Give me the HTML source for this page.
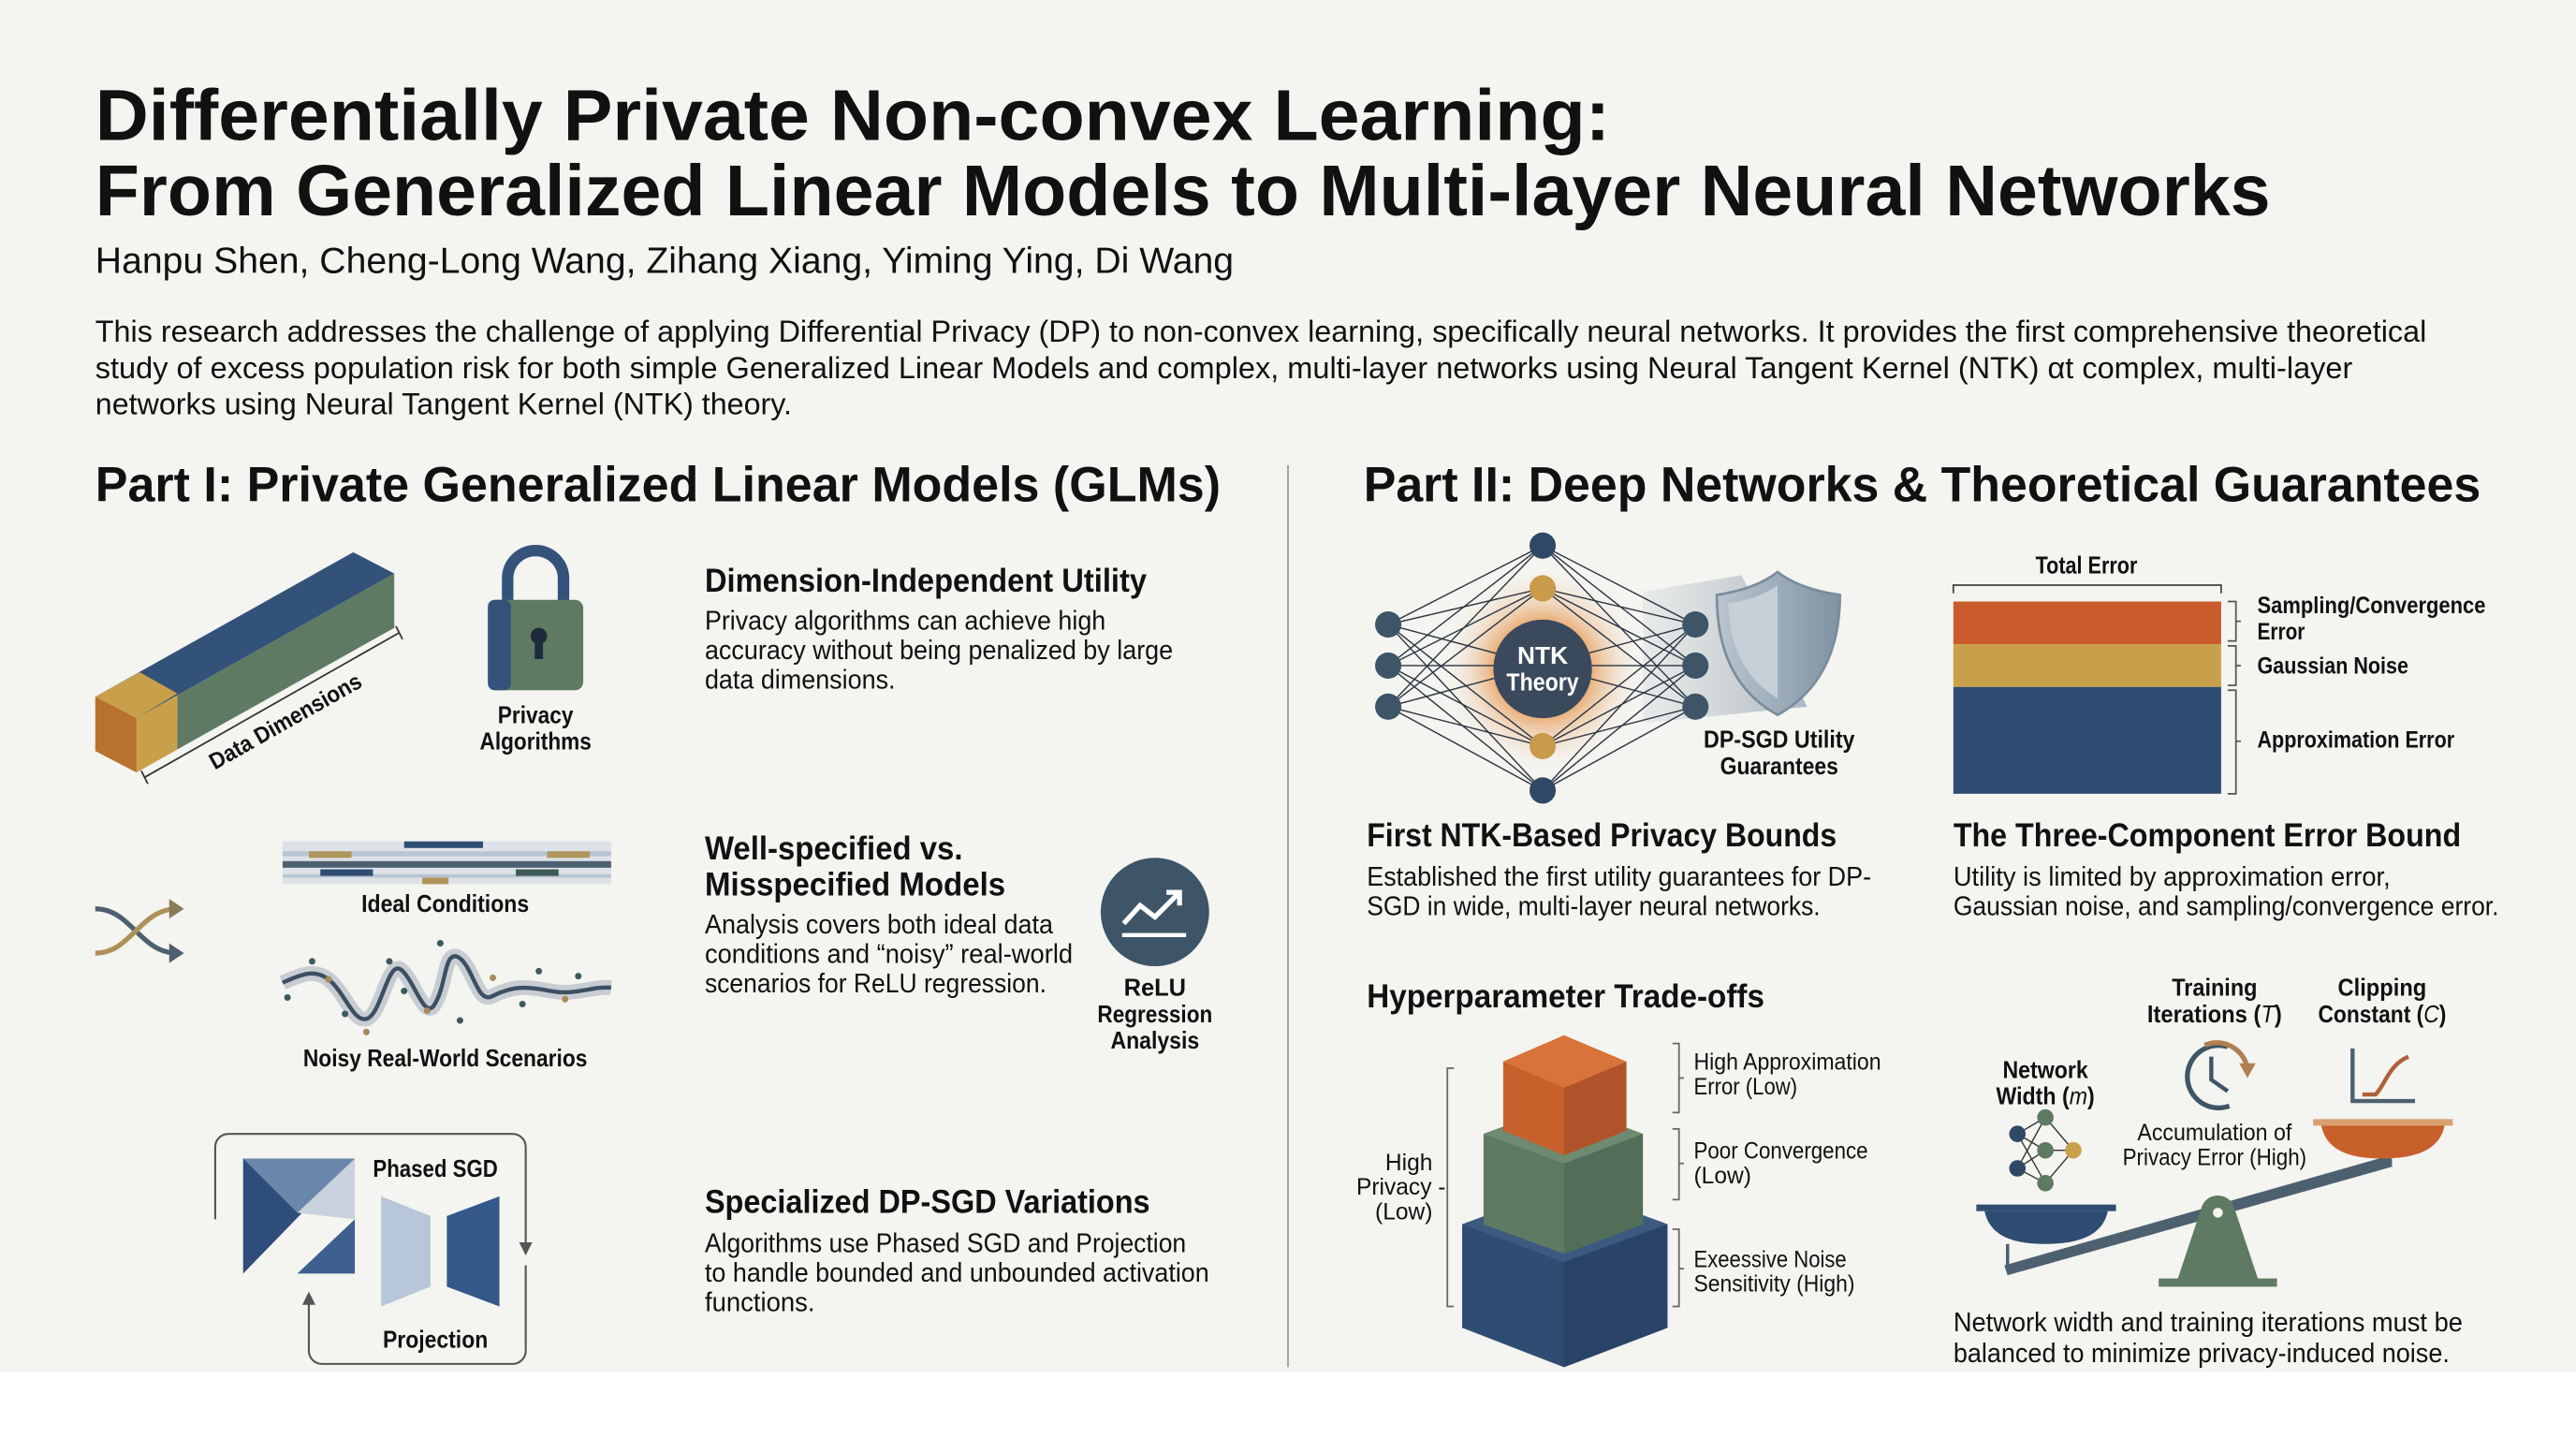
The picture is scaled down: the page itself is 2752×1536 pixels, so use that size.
<!DOCTYPE html>
<html><head><meta charset="utf-8">
<style>
html,body{margin:0;padding:0;background:#f4f4f0;}
svg{display:block;}
text{font-family:"Liberation Sans",sans-serif;fill:#111;}
.b{font-weight:bold;}
</style></head>
<body>
<svg width="2752" height="1536" viewBox="0 0 1568 875" xmlns="http://www.w3.org/2000/svg">
<defs>
<radialGradient id="glow" cx="0.5" cy="0.5" r="0.5">
<stop offset="0.45" stop-color="#e8a060" stop-opacity="0.9"/>
<stop offset="1" stop-color="#f4f4f0" stop-opacity="0"/>
</radialGradient>
<linearGradient id="beam" x1="0" x2="1">
<stop offset="0" stop-color="#b8c4cc" stop-opacity="0.2"/>
<stop offset="1" stop-color="#9aa8b4" stop-opacity="0.8"/>
</linearGradient>
<linearGradient id="shield" x1="0" x2="1">
<stop offset="0" stop-color="#b9c5cf"/>
<stop offset="1" stop-color="#7f93a3"/>
</linearGradient>
</defs>
<rect width="1568" height="875" fill="#f4f4f0"/>
<rect x="0" y="835" width="1568" height="40" fill="#ffffff"/>

<text class="b" x="58" y="85" font-size="44" textLength="922" lengthAdjust="spacingAndGlyphs">Differentially Private Non-convex Learning:</text>
<text class="b" x="58" y="131" font-size="44" textLength="1324" lengthAdjust="spacingAndGlyphs">From Generalized Linear Models to Multi-layer Neural Networks</text>
<text x="58" y="166" font-size="22" fill="#222" textLength="693" lengthAdjust="spacingAndGlyphs">Hanpu Shen, Cheng-Long Wang, Zihang Xiang, Yiming Ying, Di Wang</text>
<text x="58" y="208" font-size="18.5" textLength="1419" lengthAdjust="spacingAndGlyphs">This research addresses the challenge of applying Differential Privacy (DP) to non-convex learning, specifically neural networks. It provides the first comprehensive theoretical</text>
<text x="58" y="230" font-size="18.5" textLength="1374" lengthAdjust="spacingAndGlyphs">study of excess population risk for both simple Generalized Linear Models and complex, multi-layer networks using Neural Tangent Kernel (NTK) αt complex, multi-layer</text>
<text x="58" y="252" font-size="18.5" textLength="424" lengthAdjust="spacingAndGlyphs">networks using Neural Tangent Kernel (NTK) theory.</text>

<text class="b" x="58" y="305" font-size="30" textLength="685" lengthAdjust="spacingAndGlyphs">Part I: Private Generalized Linear Models (GLMs)</text>
<text class="b" x="830" y="305" font-size="30" textLength="680" lengthAdjust="spacingAndGlyphs">Part II: Deep Networks &amp; Theoretical Guarantees</text>
<line x1="784" y1="283" x2="784" y2="832" stroke="#999" stroke-width="1"/>

<polygon points="58,424 215,336 240,349 83,437" fill="#33527a"/>
<polygon points="58,424 85,409 108,422 83,437" fill="#c9a04a"/>
<polygon points="83,437 240,349 240,382 83,470" fill="#5e7a62"/>
<polygon points="83,437 108,423 108,456 83,470" fill="#c9a04a"/>
<polygon points="58,424 83,437 83,470 58,457" fill="#b8722e"/>
<line x1="88" y1="473" x2="243" y2="385" stroke="#333" stroke-width="1"/>
<line x1="86" y1="469" x2="90" y2="477" stroke="#333"/>
<line x1="241" y1="381" x2="245" y2="389" stroke="#333"/>
<text class="b" x="0" y="0" font-size="14" text-anchor="middle" textLength="104" lengthAdjust="spacingAndGlyphs" transform="translate(176,443) rotate(-29.5)">Data Dimensions</text>

<path d="M309,368 V352 a17,17 0 0 1 34,0 V368" fill="none" stroke="#34527a" stroke-width="7"/>
<rect x="297" y="365" width="58" height="55" rx="5" fill="#5e7a62"/>
<rect x="297" y="365" width="14" height="55" rx="4" fill="#34527a"/>
<circle cx="328" cy="387" r="5" fill="#1d2b3a"/>
<rect x="325.5" y="388" width="5" height="13" fill="#1d2b3a"/>
<text class="b" x="326" y="440" font-size="14.5" text-anchor="middle" textLength="46" lengthAdjust="spacingAndGlyphs">Privacy</text>
<text class="b" x="326" y="456" font-size="14.5" text-anchor="middle" textLength="68" lengthAdjust="spacingAndGlyphs">Algorithms</text>

<text class="b" x="429" y="360" font-size="20" textLength="269" lengthAdjust="spacingAndGlyphs">Dimension-Independent Utility</text>
<text x="429" y="383" font-size="16.5" textLength="244" lengthAdjust="spacingAndGlyphs">Privacy algorithms can achieve high</text>
<text x="429" y="401" font-size="16.5" textLength="285" lengthAdjust="spacingAndGlyphs">accuracy without being penalized by large</text>
<text x="429" y="419" font-size="16.5" textLength="116" lengthAdjust="spacingAndGlyphs">data dimensions.</text>

<path d="M58,553 C80,553 85,580 108,580" fill="none" stroke="#4d6070" stroke-width="3"/>
<path d="M58,580 C80,580 85,553 108,553" fill="none" stroke="#b0905a" stroke-width="3"/>
<polygon points="112,553 103,547 103,559" fill="#8a7a5a"/>
<polygon points="112,580 103,574 103,586" fill="#4d6070"/>

<rect x="172" y="512" width="200" height="26" fill="#dde1e8"/>
<rect x="172" y="518" width="200" height="3" fill="#b8c4d4"/>
<rect x="172" y="524" width="200" height="4" fill="#4d6070"/>
<rect x="172" y="532" width="200" height="2" fill="#b8c4d4"/>
<rect x="246" y="512" width="48" height="4" fill="#2f4d72"/>
<rect x="188" y="518" width="26" height="4" fill="#b0965a"/>
<rect x="333" y="518" width="26" height="4" fill="#b0965a"/>
<rect x="195" y="529" width="32" height="4" fill="#2f4d72"/>
<rect x="314" y="529" width="26" height="4" fill="#3d5a55"/>
<rect x="257" y="534" width="16" height="4" fill="#b0965a"/>
<text class="b" x="271" y="555" font-size="14.5" text-anchor="middle" textLength="102" lengthAdjust="spacingAndGlyphs">Ideal Conditions</text>

<path d="M172,598 C185,592 192,590 200,596 C210,604 215,622 223,620 C232,618 236,584 244,590 C252,596 258,620 264,612 C272,600 270,580 278,582 C288,586 290,612 300,606 C312,600 320,600 335,603 C350,606 360,600 372,601" fill="none" stroke="#9aa6b4" stroke-width="9" opacity="0.5"/>
<path d="M172,598 C185,592 192,590 200,596 C210,604 215,622 223,620 C232,618 236,584 244,590 C252,596 258,620 264,612 C272,600 270,580 278,582 C288,586 290,612 300,606 C312,600 320,600 335,603 C350,606 360,600 372,601" fill="none" stroke="#3d4f62" stroke-width="2.5"/>
<g fill="#3d5a60"><circle cx="190" cy="585" r="2"/><circle cx="237" cy="585" r="2"/><circle cx="268" cy="574" r="2"/><circle cx="210" cy="617" r="2"/><circle cx="280" cy="621" r="2"/><circle cx="328" cy="591" r="2"/><circle cx="352" cy="594" r="2"/><circle cx="246" cy="603" r="2"/><circle cx="318" cy="611" r="2"/><circle cx="175" cy="607" r="2"/></g>
<g fill="#a88a5a"><circle cx="200" cy="596" r="2"/><circle cx="260" cy="615" r="2"/><circle cx="300" cy="595" r="2"/><circle cx="223" cy="628" r="2"/><circle cx="344" cy="608" r="2"/></g>
<text class="b" x="271" y="649" font-size="14.5" text-anchor="middle" textLength="173" lengthAdjust="spacingAndGlyphs">Noisy Real-World Scenarios</text>

<text class="b" x="429" y="523" font-size="20" textLength="157" lengthAdjust="spacingAndGlyphs">Well-specified vs.</text>
<text class="b" x="429" y="545" font-size="20" textLength="183" lengthAdjust="spacingAndGlyphs">Misspecified Models</text>
<text x="429" y="568" font-size="16.5" textLength="212" lengthAdjust="spacingAndGlyphs">Analysis covers both ideal data</text>
<text x="429" y="586" font-size="16.5" textLength="224" lengthAdjust="spacingAndGlyphs">conditions and “noisy” real-world</text>
<text x="429" y="604" font-size="16.5" textLength="208" lengthAdjust="spacingAndGlyphs">scenarios for ReLU regression.</text>

<circle cx="703" cy="555" r="33" fill="#3d5566"/>
<polyline points="684,562 694,551 703,558 718,543" fill="none" stroke="#fff" stroke-width="3"/>
<polyline points="710,543 718,543 718,551" fill="none" stroke="#fff" stroke-width="3"/>
<line x1="683" y1="569" x2="722" y2="569" stroke="#fff" stroke-width="2.5"/>
<text class="b" x="703" y="606" font-size="14.5" text-anchor="middle">ReLU</text>
<text class="b" x="703" y="622" font-size="14.5" text-anchor="middle" textLength="70" lengthAdjust="spacingAndGlyphs">Regression</text>
<text class="b" x="703" y="638" font-size="14.5" text-anchor="middle" textLength="54" lengthAdjust="spacingAndGlyphs">Analysis</text>

<path d="M131,742 V698 a8,8 0 0 1 8,-8 H312 a8,8 0 0 1 8,8 V758" fill="none" stroke="#555" stroke-width="1.2"/>
<path d="M320,770 V822 a8,8 0 0 1 -8,8 H196 a8,8 0 0 1 -8,-8 V790" fill="none" stroke="#555" stroke-width="1.2"/>
<polygon points="320,764 316,756 324,756" fill="#555"/>
<polygon points="188,786 184,794 192,794" fill="#555"/>
<polygon points="148,705 216,705 148,775" fill="#2f4d7a"/>
<polygon points="148,705 216,705 181,738" fill="#6a86aa"/>
<polygon points="216,705 216,742 181,738" fill="#c8d2de"/>
<polygon points="216,742 216,775 181,775" fill="#3e6090"/>
<polygon points="232,728 262,740 262,783 232,795" fill="#b7c6d8"/>
<polygon points="272,740 304,728 304,795 272,783" fill="#34588a"/>
<text class="b" x="265" y="716" font-size="14.5" text-anchor="middle" textLength="76" lengthAdjust="spacingAndGlyphs">Phased SGD</text>
<text class="b" x="265" y="820" font-size="14.5" text-anchor="middle" textLength="64" lengthAdjust="spacingAndGlyphs">Projection</text>

<text class="b" x="429" y="738" font-size="20" textLength="271" lengthAdjust="spacingAndGlyphs">Specialized DP-SGD Variations</text>
<text x="429" y="762" font-size="16.5" textLength="293" lengthAdjust="spacingAndGlyphs">Algorithms use Phased SGD and Projection</text>
<text x="429" y="780" font-size="16.5" textLength="307" lengthAdjust="spacingAndGlyphs">to handle bounded and unbounded activation</text>
<text x="429" y="798" font-size="16.5" textLength="67" lengthAdjust="spacingAndGlyphs">functions.</text>

<polygon points="1000,360 1060,350 1100,430 1000,440" fill="url(#beam)"/>
<circle cx="939" cy="407" r="62" fill="url(#glow)"/>
<g stroke="#2a3440" stroke-width="0.8">
<line x1="845" y1="380" x2="939" y2="332"/><line x1="845" y1="380" x2="939" y2="358"/><line x1="845" y1="380" x2="939" y2="454"/><line x1="845" y1="380" x2="939" y2="481"/>
<line x1="845" y1="405" x2="939" y2="332"/><line x1="845" y1="405" x2="939" y2="358"/><line x1="845" y1="405" x2="939" y2="454"/><line x1="845" y1="405" x2="939" y2="481"/>
<line x1="845" y1="430" x2="939" y2="332"/><line x1="845" y1="430" x2="939" y2="358"/><line x1="845" y1="430" x2="939" y2="454"/><line x1="845" y1="430" x2="939" y2="481"/>
<line x1="1032" y1="380" x2="939" y2="332"/><line x1="1032" y1="380" x2="939" y2="358"/><line x1="1032" y1="380" x2="939" y2="454"/><line x1="1032" y1="380" x2="939" y2="481"/>
<line x1="1032" y1="405" x2="939" y2="332"/><line x1="1032" y1="405" x2="939" y2="358"/><line x1="1032" y1="405" x2="939" y2="454"/><line x1="1032" y1="405" x2="939" y2="481"/>
<line x1="1032" y1="430" x2="939" y2="332"/><line x1="1032" y1="430" x2="939" y2="358"/><line x1="1032" y1="430" x2="939" y2="454"/><line x1="1032" y1="430" x2="939" y2="481"/>
<line x1="845" y1="380" x2="1032" y2="430"/><line x1="845" y1="430" x2="1032" y2="380"/><line x1="845" y1="405" x2="1032" y2="405"/>
</g>
<circle cx="939" cy="407" r="30" fill="#3a4a5c"/>
<g fill="#3d5566"><circle cx="845" cy="380" r="8"/><circle cx="845" cy="405" r="8"/><circle cx="845" cy="430" r="8"/>
<circle cx="1032" cy="380" r="8"/><circle cx="1032" cy="405" r="8"/><circle cx="1032" cy="430" r="8"/></g>
<g fill="#2f4866"><circle cx="939" cy="332" r="8"/><circle cx="939" cy="481" r="8"/></g>
<g fill="#c99a4a"><circle cx="939" cy="358" r="8"/><circle cx="939" cy="454" r="8"/></g>
<text class="b" x="939" y="404" font-size="15" text-anchor="middle" style="fill:#fff">NTK</text>
<text class="b" x="939" y="420" font-size="15" text-anchor="middle" textLength="44" lengthAdjust="spacingAndGlyphs" style="fill:#fff">Theory</text>
<path d="M1082,348 C1072,356 1058,360 1045,362 C1045,398 1058,422 1082,435 C1106,422 1120,398 1120,362 C1106,360 1092,356 1082,348 Z" fill="url(#shield)" stroke="#7a8c9c" stroke-width="1.5"/>
<path d="M1082,356 C1074,362 1062,366 1052,367 C1053,396 1064,414 1082,425 Z" fill="#c5d0d9"/>
<text class="b" x="1083" y="455" font-size="14.5" text-anchor="middle" textLength="92" lengthAdjust="spacingAndGlyphs">DP-SGD Utility</text>
<text class="b" x="1083" y="471" font-size="14.5" text-anchor="middle" textLength="72" lengthAdjust="spacingAndGlyphs">Guarantees</text>

<text class="b" x="832" y="515" font-size="20" textLength="286" lengthAdjust="spacingAndGlyphs">First NTK-Based Privacy Bounds</text>
<text x="832" y="539" font-size="16.5" textLength="307" lengthAdjust="spacingAndGlyphs">Established the first utility guarantees for DP-</text>
<text x="832" y="557" font-size="16.5" textLength="276" lengthAdjust="spacingAndGlyphs">SGD in wide, multi-layer neural networks.</text>

<text class="b" x="1270" y="349" font-size="14.5" text-anchor="middle" textLength="62" lengthAdjust="spacingAndGlyphs">Total Error</text>
<path d="M1189,361 V356 H1352 V361" fill="none" stroke="#444"/>
<rect x="1189" y="366" width="163" height="26" fill="#c85a2c"/>
<rect x="1189" y="392" width="163" height="26" fill="#c9a04a"/>
<rect x="1189" y="418" width="163" height="65" fill="#2f4d72"/>
<g fill="none" stroke="#555" stroke-width="1">
<path d="M1356,366 H1361 V390 H1356 M1361,378 H1364"/>
<path d="M1356,393 H1361 V417 H1356 M1361,405 H1364"/>
<path d="M1356,420 H1361 V483 H1356 M1361,451 H1364"/>
</g>
<text class="b" x="1374" y="373" font-size="14" textLength="139" lengthAdjust="spacingAndGlyphs">Sampling/Convergence</text>
<text class="b" x="1374" y="389" font-size="14" textLength="29" lengthAdjust="spacingAndGlyphs">Error</text>
<text class="b" x="1374" y="410" font-size="14" textLength="92" lengthAdjust="spacingAndGlyphs">Gaussian Noise</text>
<text class="b" x="1374" y="455" font-size="14" textLength="120" lengthAdjust="spacingAndGlyphs">Approximation Error</text>

<text class="b" x="1189" y="515" font-size="20" textLength="309" lengthAdjust="spacingAndGlyphs">The Three-Component Error Bound</text>
<text x="1189" y="539" font-size="16.5" textLength="266" lengthAdjust="spacingAndGlyphs">Utility is limited by approximation error,</text>
<text x="1189" y="557" font-size="16.5" textLength="332" lengthAdjust="spacingAndGlyphs">Gaussian noise, and sampling/convergence error.</text>

<text class="b" x="832" y="613" font-size="20" textLength="242" lengthAdjust="spacingAndGlyphs">Hyperparameter Trade-offs</text>

<polygon points="890,745 952,722 1015,745 1015,808 952,832 890,808" fill="#2f4d72"/>
<polygon points="952,768 1015,745 1015,808 952,832" fill="#2a4468"/>
<polygon points="890,745 952,722 1015,745 952,768" fill="#3c5a80"/>
<polygon points="903,690 952,672 1000,690 1000,745 952,763 903,745" fill="#5e7a62"/>
<polygon points="952,708 1000,690 1000,745 952,763" fill="#536e58"/>
<polygon points="903,690 952,672 1000,690 952,708" fill="#6e8a70"/>
<polygon points="915,646 952,630 990,646 990,688 952,703 915,688" fill="#c8602c"/>
<polygon points="952,662 990,646 990,688 952,703" fill="#b0532a"/>
<polygon points="915,646 952,630 990,646 952,662" fill="#d8733a"/>
<g fill="none" stroke="#666" stroke-width="1">
<path d="M1018,635 H1022 V677 H1018 M1022,656 H1025"/>
<path d="M1018,687 H1022 V730 H1018 M1022,708 H1025"/>
<path d="M1018,748 H1022 V795 H1018 M1022,772 H1025"/>
<path d="M885,650 H881 V795 H885"/>
</g>
<text x="1031" y="651" font-size="14" textLength="114" lengthAdjust="spacingAndGlyphs">High Approximation</text>
<text x="1031" y="666" font-size="14" textLength="63" lengthAdjust="spacingAndGlyphs">Error (Low)</text>
<text x="1031" y="705" font-size="14" textLength="106" lengthAdjust="spacingAndGlyphs">Poor Convergence</text>
<text x="1031" y="720" font-size="14">(Low)</text>
<text x="1031" y="771" font-size="14" textLength="93" lengthAdjust="spacingAndGlyphs">Exeessive Noise</text>
<text x="1031" y="786" font-size="14" textLength="98" lengthAdjust="spacingAndGlyphs">Sensitivity (High)</text>
<text x="872" y="712" font-size="14" text-anchor="end">High</text>
<text x="880" y="727" font-size="14" text-anchor="end">Privacy -</text>
<text x="872" y="742" font-size="14" text-anchor="end">(Low)</text>

<text class="b" x="1348" y="606" font-size="14.5" text-anchor="middle" textLength="52" lengthAdjust="spacingAndGlyphs">Training</text>
<text class="b" x="1348" y="622" font-size="14.5" text-anchor="middle" textLength="82" lengthAdjust="spacingAndGlyphs">Iterations (<tspan font-style="italic" font-weight="normal">T</tspan>)</text>
<text class="b" x="1450" y="606" font-size="14.5" text-anchor="middle" textLength="54" lengthAdjust="spacingAndGlyphs">Clipping</text>
<text class="b" x="1450" y="622" font-size="14.5" text-anchor="middle" textLength="78" lengthAdjust="spacingAndGlyphs">Constant (<tspan font-style="italic" font-weight="normal">C</tspan>)</text>
<text class="b" x="1245" y="656" font-size="14.5" text-anchor="middle" textLength="52" lengthAdjust="spacingAndGlyphs">Network</text>
<text class="b" x="1245" y="672" font-size="14.5" text-anchor="middle" textLength="60" lengthAdjust="spacingAndGlyphs">Width (<tspan font-style="italic" font-weight="normal">m</tspan>)</text>
<path d="M1357,673 A19,19 0 1 1 1356,637" fill="none" stroke="#3d5566" stroke-width="3"/>
<path d="M1342,636 A19,19 0 0 1 1368,650" fill="none" stroke="#b08050" stroke-width="3"/>
<polygon points="1368,656 1363,647 1373,647" fill="#b08050"/>
<polyline points="1346,643 1346,657 1356,664" fill="none" stroke="#3d5566" stroke-width="2.5"/>
<polyline points="1432,638 1432,670 1470,670" fill="none" stroke="#4d6070" stroke-width="2.5"/>
<path d="M1438,666 H1446 C1452,660 1454,648 1466,643" fill="none" stroke="#b0603a" stroke-width="2.5"/>
<text x="1348" y="694" font-size="14" text-anchor="middle" textLength="94" lengthAdjust="spacingAndGlyphs">Accumulation of</text>
<text x="1348" y="709" font-size="14" text-anchor="middle" textLength="112" lengthAdjust="spacingAndGlyphs">Privacy Error (High)</text>
<g stroke="#333" stroke-width="0.8"><line x1="1228" y1="690" x2="1245" y2="680"/><line x1="1228" y1="690" x2="1245" y2="700"/><line x1="1228" y1="711" x2="1245" y2="700"/><line x1="1228" y1="711" x2="1245" y2="720"/><line x1="1228" y1="690" x2="1245" y2="720"/><line x1="1228" y1="711" x2="1245" y2="680"/><line x1="1245" y1="700" x2="1262" y2="700"/><line x1="1245" y1="680" x2="1262" y2="700"/><line x1="1245" y1="720" x2="1262" y2="700"/></g>
<g fill="#2f4866"><circle cx="1228" cy="690" r="5"/><circle cx="1228" cy="711" r="5"/></g>
<g fill="#5e7a62"><circle cx="1245" cy="680" r="5"/><circle cx="1245" cy="700" r="5"/><circle cx="1245" cy="720" r="5"/></g>
<circle cx="1262" cy="700" r="5" fill="#c9a04a"/>
<polygon points="1220,770 1455,703 1456,710 1222,776" fill="#4d6070"/>
<rect x="1203" y="733" width="85" height="4" fill="#2f4d72"/>
<path d="M1208,737 H1283 C1280,752 1265,757 1245,757 C1225,757 1211,752 1208,737 Z" fill="#2f4d72"/>
<line x1="1222" y1="757" x2="1222" y2="772" stroke="#4d6070" stroke-width="2"/>
<rect x="1408" y="681" width="85" height="4" fill="#d9a070"/>
<path d="M1413,685 H1488 C1485,700 1470,705 1450,705 C1430,705 1416,700 1413,685 Z" fill="#c8602c"/>
<line x1="1455" y1="705" x2="1455" y2="710" stroke="#4d6070" stroke-width="2"/>
<path d="M1325,780 L1340,735 C1343,725 1357,725 1360,735 L1375,780 Z" fill="#5e7a62"/>
<rect x="1314" y="778" width="72" height="5" fill="#5e7a62"/>
<circle cx="1350" cy="738" r="3" fill="#f4f4f0"/>
<text x="1189" y="810" font-size="16.5" textLength="310" lengthAdjust="spacingAndGlyphs">Network width and training iterations must be</text>
<text x="1189" y="829" font-size="16.5" textLength="302" lengthAdjust="spacingAndGlyphs">balanced to minimize privacy-induced noise.</text>
</svg>
</body></html>
